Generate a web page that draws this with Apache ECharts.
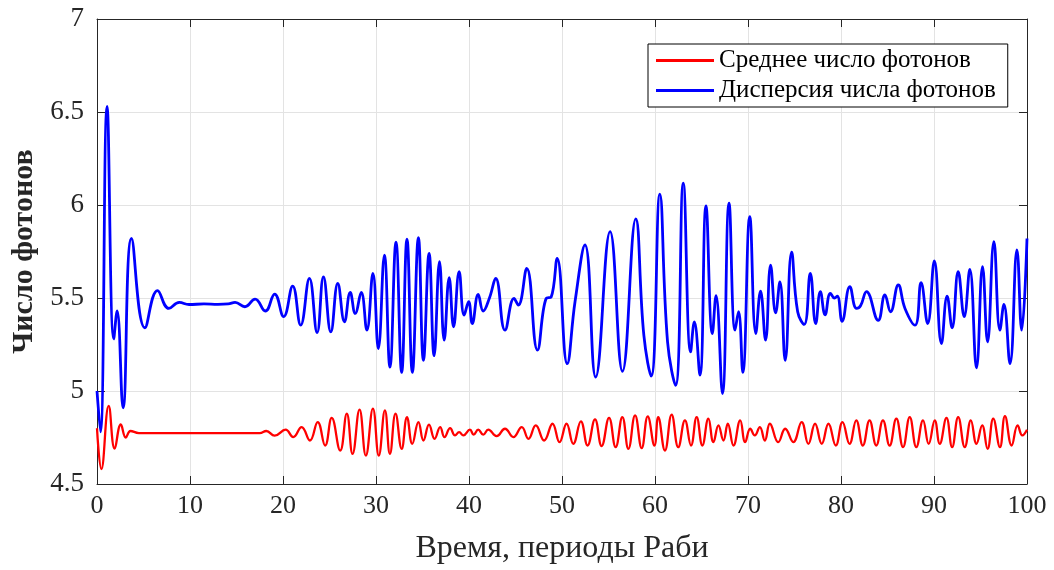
<!DOCTYPE html>
<html>
<head>
<meta charset="utf-8">
<script src="https://cdn.jsdelivr.net/npm/echarts@6/dist/echarts.min.js"></script>
<style>
  html, body { margin: 0; padding: 0; background: #fff; }
  #chart { width: 1054px; height: 570px; }
</style>
</head>
<body>
<div id="chart"></div>
<script>
// Mean photon number vs time (Rabi periods)
const meanTime = [0, 0.47, 1.26, 1.9, 2.56, 3.1, 3.6, 4.5, 8, 12, 16, 17.5, 18.2, 19.1,
  20.28, 21.1, 22.0, 22.9, 23.73, 24.53, 25.24, 26.15, 26.86, 27.48, 28.23, 28.91, 29.67,
  30.3, 30.96, 31.5, 32.1, 32.76, 33.33, 33.9, 34.56, 35.1, 35.7, 36.3, 36.9, 37.37, 37.97,
  38.5, 38.94, 39.4, 40.1, 40.5, 40.99, 41.53, 42.07, 42.97, 43.87, 44.77, 45.67, 46.39,
  47.18, 48.08, 48.98, 49.73, 50.49, 51.21, 52.03, 52.75, 53.55, 54.26, 55.06, 55.77,
  56.49, 57.14, 57.86, 58.57, 59.22, 59.94, 60.35, 61.07, 61.79, 62.5, 63.22, 63.87,
  64.48, 65.09, 65.74, 66.28, 66.82, 67.36, 67.83, 68.44, 69.16, 69.7, 70.24, 70.73,
  71.27, 71.81, 72.35, 73.25, 74.0, 74.87, 75.77, 76.49, 77.21, 77.93, 78.65, 79.44,
  80.16, 80.92, 81.64, 82.35, 83.07, 83.79, 84.51, 85.23, 85.95, 86.67, 87.39, 88.1,
  88.82, 89.43, 90.08, 90.62, 91.34, 91.95, 92.6, 93.31, 93.96, 94.57, 95.18, 95.76,
  96.37, 97.09, 97.63, 98.35, 98.99, 99.5, 100];
const meanValues = [4.80, 4.58, 4.92, 4.69, 4.82, 4.75, 4.785, 4.774, 4.774, 4.774, 4.774, 4.774, 4.785, 4.76,
  4.792, 4.752, 4.806, 4.734, 4.833, 4.707, 4.855, 4.68, 4.878, 4.662, 4.90, 4.653, 4.905,
  4.653, 4.896, 4.662, 4.878, 4.689, 4.86, 4.716, 4.833, 4.734, 4.819, 4.743, 4.806, 4.752, 4.80,
  4.761, 4.779, 4.761, 4.792, 4.765, 4.792, 4.765, 4.792, 4.757, 4.797, 4.752, 4.806, 4.743,
  4.815, 4.734, 4.824, 4.725, 4.824, 4.716, 4.837, 4.707, 4.847, 4.704, 4.855, 4.698,
  4.86, 4.689, 4.869, 4.693, 4.864, 4.707, 4.86, 4.68, 4.873, 4.698, 4.842, 4.707,
  4.86, 4.707, 4.851, 4.725, 4.815, 4.734, 4.824, 4.707, 4.842, 4.725, 4.797, 4.761,
  4.806, 4.734, 4.824, 4.725, 4.797, 4.725, 4.833, 4.716, 4.824, 4.716, 4.824, 4.707,
  4.833, 4.716, 4.842, 4.707, 4.842, 4.707, 4.842, 4.707, 4.851, 4.698, 4.86, 4.698,
  4.842, 4.716, 4.842, 4.716, 4.855, 4.698, 4.86, 4.698, 4.842, 4.716, 4.815, 4.689,
  4.851, 4.698, 4.865, 4.707, 4.815, 4.761, 4.792];

// Photon number variance vs time
const varTime = [0, 0.37, 1.08, 1.8, 2.16, 2.8, 3.71, 5.15, 6.51, 7.73, 8.85, 9.9, 11.5, 13.0,
  14.1, 14.85, 15.9, 17.0, 18.1, 19.1, 20.07, 21.04, 21.9, 22.84, 23.67, 24.35, 25.14,
  25.89, 26.61, 27.23, 27.77, 28.41, 29.02, 29.67, 30.25, 30.9, 31.5, 32.15, 32.76, 33.33,
  33.91, 34.56, 35.1, 35.71, 36.25, 36.83, 37.33, 37.87, 38.34, 38.94, 39.48, 39.96,
  40.35, 40.99, 41.53, 42.2, 42.87, 43.87, 44.84, 45.3, 46.21, 47.36, 48.3, 48.83, 49.48,
  50.56, 51.4, 52.47, 53.62, 55.17, 56.5, 57.93, 58.8, 59.59, 60.52, 61.35, 62.21, 63.04,
  63.83, 64.23, 64.83, 65.48, 66.17, 66.56, 67.25, 67.96, 68.61, 68.98, 69.44, 70.19,
  70.84, 71.35, 71.89, 72.43, 72.97, 73.43, 74.0, 74.69, 75.34, 76.05, 76.7, 77.28,
  77.78, 78.29, 78.86, 79.3, 79.6, 80.12, 80.95, 81.67, 82.1, 82.74, 84.0, 84.72, 85.33,
  86.16, 86.88, 87.96, 88.61, 89.32, 90.04, 90.8, 91.41, 91.95, 92.6, 93.25, 93.85,
  94.57, 95.22, 95.76, 96.44, 97.09, 97.52, 98.17, 98.92, 99.43, 100];
const varValues = [5.00, 4.78, 6.53, 5.28, 5.43, 4.91, 5.82, 5.34, 5.54, 5.444, 5.476, 5.465, 5.468, 5.466,
  5.468, 5.476, 5.453, 5.494, 5.43, 5.521, 5.40, 5.564, 5.354, 5.605, 5.314, 5.614, 5.318,
  5.578, 5.372, 5.53, 5.417, 5.53, 5.327, 5.632, 5.228, 5.731, 5.129, 5.80, 5.10, 5.817,
  5.10, 5.825, 5.165, 5.74, 5.19, 5.695, 5.273, 5.609, 5.345, 5.641, 5.408, 5.48,
  5.363, 5.519, 5.43, 5.50, 5.605, 5.327, 5.498, 5.462, 5.659, 5.22, 5.498, 5.505, 5.713,
  5.147, 5.48, 5.785, 5.075, 5.857, 5.106, 5.925, 5.30, 5.08, 6.058, 5.264, 5.03, 6.117,
  5.21, 5.372, 5.085, 5.995, 5.309, 5.512, 4.986, 6.01, 5.327, 5.426, 5.10, 5.938,
  5.309, 5.537, 5.273, 5.677, 5.42, 5.587, 5.165, 5.746, 5.426, 5.358, 5.632, 5.363,
  5.534, 5.41, 5.525, 5.50, 5.51, 5.375, 5.561, 5.444, 5.458, 5.534, 5.38, 5.516, 5.426,
  5.57, 5.444, 5.354, 5.582, 5.363, 5.699, 5.255, 5.51, 5.34, 5.641, 5.40, 5.654,
  5.124, 5.668, 5.264, 5.803, 5.327, 5.465, 5.147, 5.758, 5.327, 5.82];

const xTicks = { min: 0, max: 100, step: 10 };
const yTicks = { min: 4.5, max: 7, step: 0.5 };

const seriesNames = ['Среднее число фотонов', 'Дисперсия числа фотонов'];
const xTitle = 'Время, периоды Раби';
const yTitle = 'Число фотонов';

const zip = (xs, ys) => xs.map((x, i) => [x, ys[i]]);

const FONT = 'Liberation Serif';
const AXIS_COLOR = '#262626';

const chart = echarts.init(document.getElementById('chart'), null, { renderer: 'canvas' });

const baseX = {
  type: 'value', min: xTicks.min, max: xTicks.max, interval: xTicks.step,
  axisLine: { show: true, onZero: false, lineStyle: { color: AXIS_COLOR, width: 1 } },
  axisTick: { show: true, inside: true, length: 8, lineStyle: { color: AXIS_COLOR } }
};
const baseY = {
  type: 'value', min: yTicks.min, max: yTicks.max, interval: yTicks.step,
  axisLine: { show: true, onZero: false, lineStyle: { color: AXIS_COLOR, width: 1 } },
  axisTick: { show: true, inside: true, length: 8, lineStyle: { color: AXIS_COLOR } }
};

chart.setOption({
  animation: false,
  backgroundColor: '#fff',
  grid: { left: 97, right: 27, top: 19, bottom: 83, containLabel: false },
  legend: {
    orient: 'vertical', left: 648, top: 44,
    padding: [4, 12, 4, 8], itemGap: 5,
    itemWidth: 58, itemHeight: 3, icon: 'rect',
    backgroundColor: '#fff', borderColor: '#000', borderWidth: 1, borderRadius: 0,
    textStyle: { fontFamily: FONT, fontSize: 25, color: '#000' },
    data: seriesNames
  },
  xAxis: [
    Object.assign({}, baseX, {
      position: 'bottom',
      name: xTitle, nameLocation: 'middle', nameGap: 49,
      nameTextStyle: { fontFamily: FONT, fontSize: 32, color: AXIS_COLOR },
      axisLabel: { fontFamily: FONT, fontSize: 26, color: AXIS_COLOR, margin: 9 },
      splitLine: { show: true, lineStyle: { color: '#e3e3e3', width: 1 } }
    }),
    Object.assign({}, baseX, {
      position: 'top', axisLabel: { show: false }, splitLine: { show: false }
    })
  ],
  yAxis: [
    Object.assign({}, baseY, {
      position: 'left',
      name: yTitle, nameLocation: 'middle', nameGap: 55, nameRotate: 90,
      nameTextStyle: { fontFamily: FONT, fontSize: 30, fontWeight: 'bold', color: AXIS_COLOR },
      axisLabel: { fontFamily: FONT, fontSize: 27, color: AXIS_COLOR, margin: 13 },
      splitLine: { show: true, lineStyle: { color: '#e3e3e3', width: 1 } }
    }),
    Object.assign({}, baseY, {
      position: 'right', axisLabel: { show: false }, splitLine: { show: false }
    })
  ],
  series: [
    {
      name: seriesNames[0], type: 'line', xAxisIndex: 0, yAxisIndex: 0,
      data: zip(meanTime, meanValues),
      smooth: 0.45, showSymbol: false, symbol: 'none',
      lineStyle: { color: '#ff0000', width: 2.3 }, itemStyle: { color: '#ff0000' }
    },
    {
      name: seriesNames[1], type: 'line', xAxisIndex: 0, yAxisIndex: 0,
      data: zip(varTime, varValues),
      smooth: 0.45, showSymbol: false, symbol: 'none',
      lineStyle: { color: '#0000ff', width: 2.8 }, itemStyle: { color: '#0000ff' }
    }
  ]
});
</script>
</body>
</html>
